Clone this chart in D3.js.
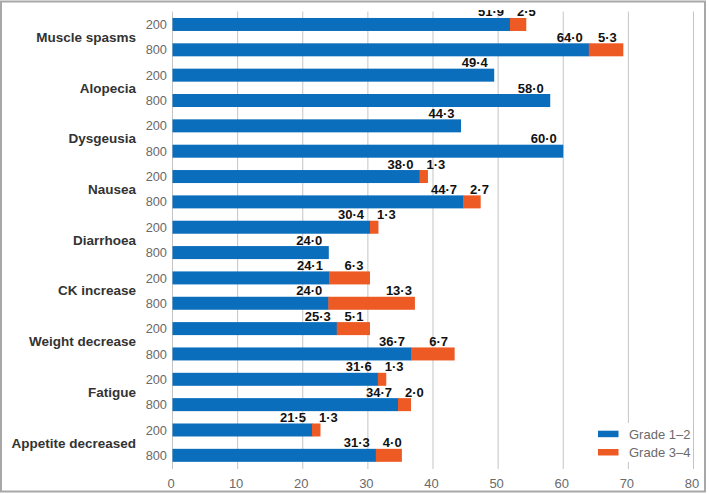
<!DOCTYPE html>
<html><head><meta charset="utf-8">
<script src="https://cdn.jsdelivr.net/npm/d3@7"></script>
<style>
html,body{margin:0;padding:0;background:#fff;}
svg{display:block;font-family:"Liberation Sans",Arial,sans-serif;}
</style></head>
<body><svg id="chart" width="709" height="494"></svg>
<script>
const categories = ["Muscle spasms","Alopecia","Dysgeusia","Nausea","Diarrhoea","CK increase","Weight decrease","Fatigue","Appetite decreased"];
const doses = ["200","800"];
const grade12_200 = [51.9,49.4,44.3,38.0,30.4,24.1,25.3,31.6,21.5];
const grade12_800 = [64.0,58.0,60.0,44.7,24.0,24.0,36.7,34.7,31.3];
const grade34_200 = [2.5,0,0,1.3,1.3,6.3,5.1,1.3,1.3];
const grade34_800 = [5.3,0,0,2.7,0,13.3,6.7,2.0,4.0];
const seriesNames = ["Grade 1\u20132","Grade 3\u20134"];
const xTicks = [0,10,20,30,40,50,60,70,80];

const colors = ["#0B6EBC","#EE5A24"];
const svg = d3.select("#chart");

// outer frame
svg.append("rect").attr("x",1).attr("y",1.5).attr("width",704).attr("height",490)
  .attr("fill","#fff").attr("stroke","#A8A8A8").attr("stroke-width",2);

const rows = [];
categories.forEach((c,i)=>{
  rows.push({cat:c, dose:doses[0], g12:grade12_200[i], g34:grade34_200[i], key:c+"|"+doses[0]});
  rows.push({cat:c, dose:doses[1], g12:grade12_800[i], g34:grade34_800[i], key:c+"|"+doses[1]});
});

const x = d3.scaleLinear().domain([0,80]).range([172,693]);
const y = d3.scaleBand().domain(rows.map(d=>d.key)).range([11.8,468]).paddingInner(0.487).paddingOuter(0.2435);

// gridlines
svg.append("g").selectAll("line").data(xTicks).join("line")
  .attr("x1",d=>x(d)+0.5).attr("x2",d=>x(d)+0.5).attr("y1",11.5).attr("y2",469)
  .attr("stroke","#C4C4C4").attr("stroke-width",1);

// tick labels
svg.append("g").selectAll("text").data(xTicks).join("text")
  .attr("x",d=>x(d)-1).attr("y",487.5).attr("text-anchor","middle")
  .attr("font-size",13).attr("fill","#6A6A6A").text(d=>d);

// bars
const bars = svg.append("g");
bars.selectAll("rect.g12").data(rows).join("rect").attr("class","g12")
  .attr("x",x(0)+0.5).attr("y",d=>y(d.key)).attr("height",y.bandwidth())
  .attr("width",d=>x(d.g12)-x(0)).attr("fill",colors[0]);
bars.selectAll("rect.g34").data(rows.filter(d=>d.g34>0)).join("rect").attr("class","g34")
  .attr("x",d=>x(d.g12)).attr("y",d=>y(d.key)).attr("height",y.bandwidth())
  .attr("width",d=>x(d.g12+d.g34)-x(d.g12)).attr("fill",colors[1]);

// labels (clipped at plot top)
svg.append("clipPath").attr("id","clipTop").append("rect")
  .attr("x",0).attr("y",10).attr("width",709).attr("height",484);
const lab = svg.append("g").attr("clip-path","url(#clipTop)")
  .attr("font-size",13).attr("font-weight","bold").attr("fill","#111");
const fmt = v => v.toFixed(1).replace(".","\u00B7");
rows.forEach(d=>{
  const by = y(d.key) - 1.5;
  const t1 = lab.append("text").attr("x",x(d.g12)-6).attr("y",by)
    .attr("text-anchor","end").text(fmt(d.g12));
  if (d.g34>0){
    const t2 = lab.append("text").attr("y",by).attr("text-anchor","middle").text(fmt(d.g34));
    const w = t2.node().getComputedTextLength();
    const blueEnd = x(d.g12)-6;
    const cx = Math.max(x(d.g12+d.g34)-16, blueEnd + 13 + w/2);
    t2.attr("x",cx);
  }
});

// dose labels
svg.append("g").selectAll("text").data(rows).join("text")
  .attr("x",167).attr("y",d=>y(d.key)+y.bandwidth()/2).attr("dy","0.36em")
  .attr("text-anchor","end").attr("font-size",12.8).attr("fill","#6A6A6A").text(d=>d.dose);

// category labels
svg.append("g").selectAll("text").data(categories).join("text")
  .attr("x",136)
  .attr("y",c=>(y(c+"|"+doses[0])+y(c+"|"+doses[1])+y.bandwidth())/2)
  .attr("dy","0.36em").attr("text-anchor","end")
  .attr("font-size",13.5).attr("font-weight","bold").attr("fill","#333").text(c=>c);

// legend
const lg = svg.append("g");
lg.append("rect").attr("x",592).attr("y",423).attr("width",98).attr("height",39).attr("fill","#fff");
seriesNames.forEach((n,i)=>{
  const cy = 434 + i*18.3;
  lg.append("rect").attr("x",598).attr("y",cy-3.3).attr("width",20.5).attr("height",6.5).attr("fill",colors[i]);
  lg.append("text").attr("x",629).attr("y",cy).attr("dy","0.36em")
    .attr("font-size",13).attr("fill","#6A6A6A").text(n);
});
</script>
</body></html>
